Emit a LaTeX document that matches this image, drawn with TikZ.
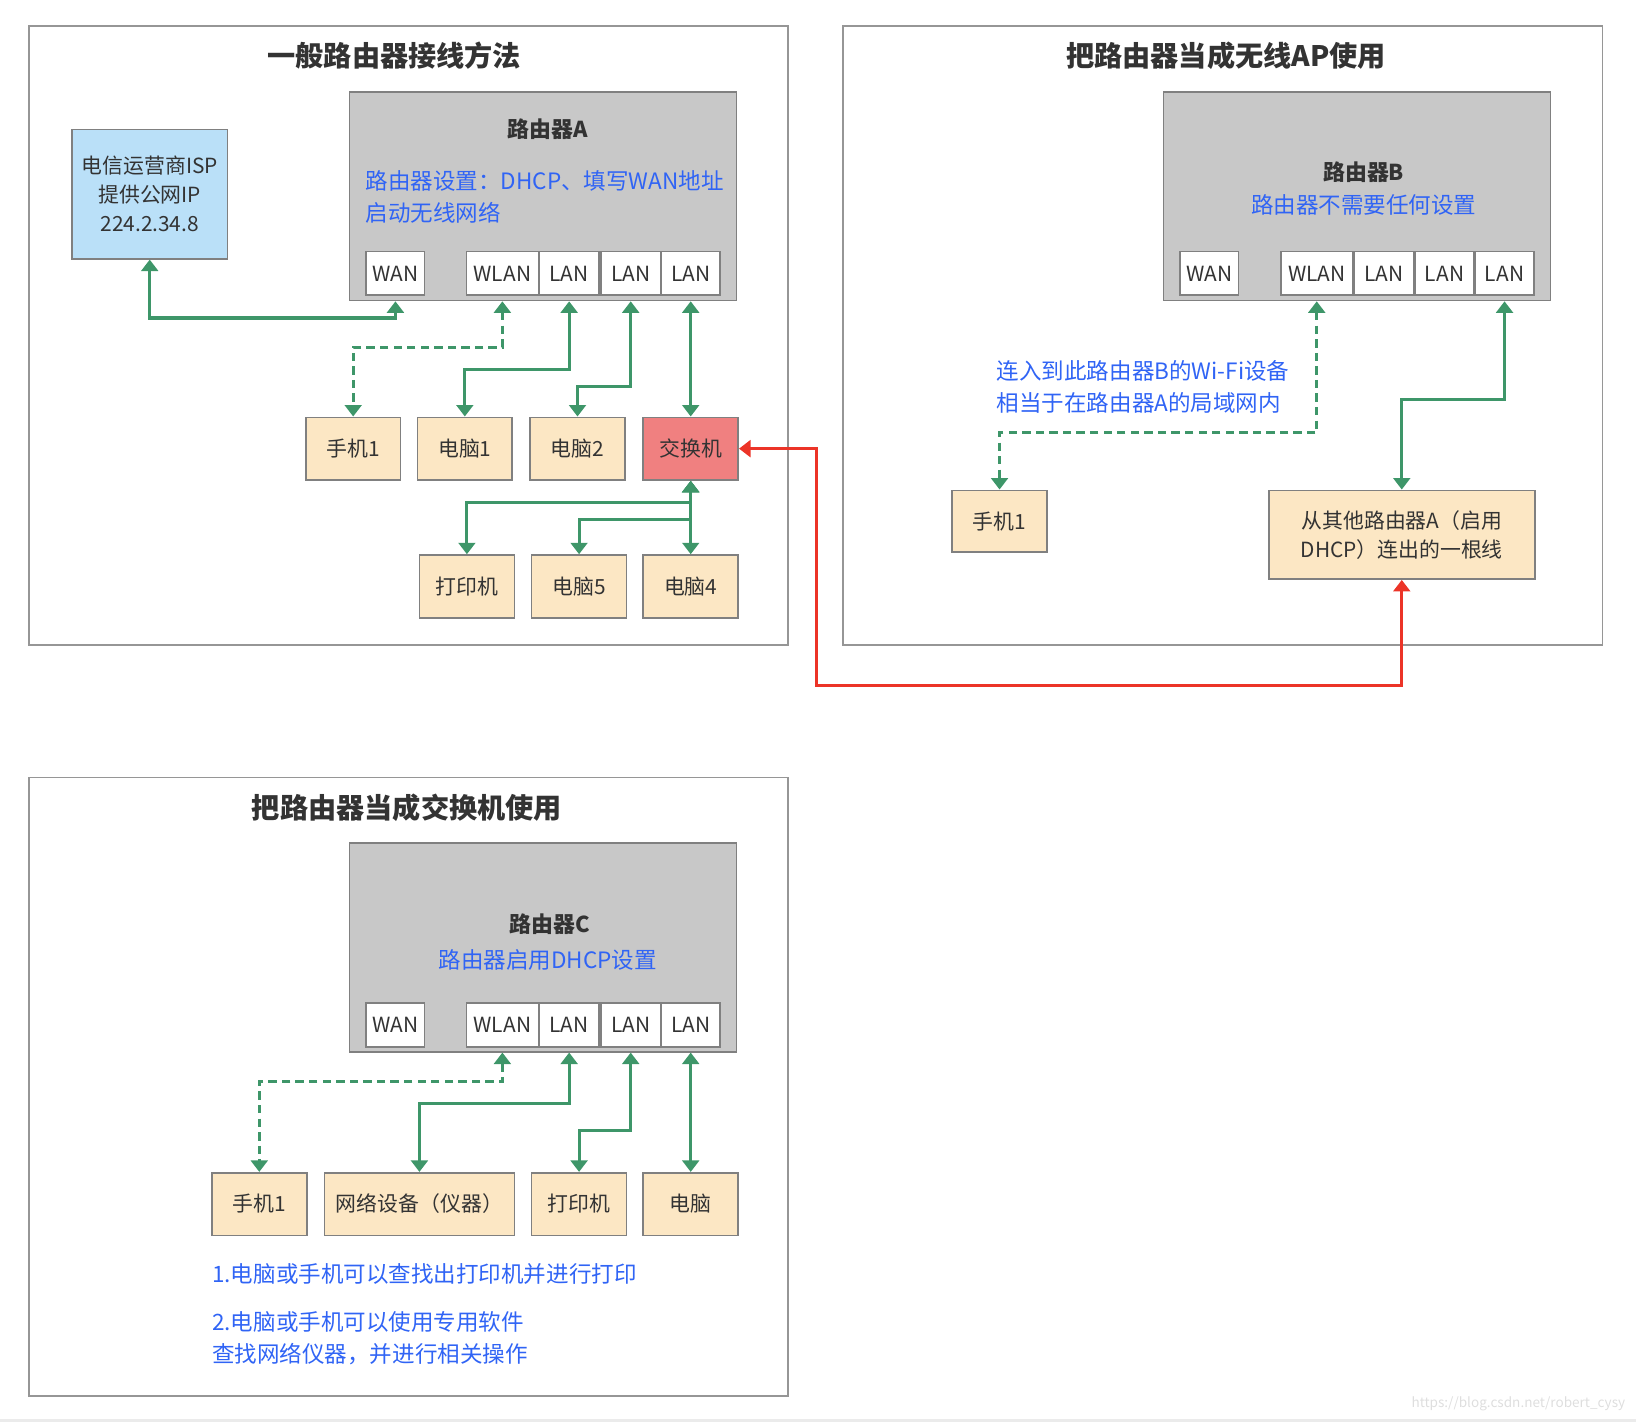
\documentclass[tikz,border=0pt]{standalone}
\usepackage{fontspec}
\setmainfont{Noto Sans CJK SC}
\usepackage{tikz}
\usetikzlibrary{arrows.meta,positioning}

\definecolor{txtdark}{RGB}{51,51,51}
\definecolor{noteblue}{RGB}{48,100,245}
\definecolor{linkgreen}{RGB}{62,150,105}
\definecolor{linkred}{RGB}{236,52,40}
\definecolor{routergray}{RGB}{200,200,200}
\definecolor{edgegray}{RGB}{128,128,128}
\definecolor{framegray}{RGB}{150,150,150}
\definecolor{devbeige}{RGB}{252,231,196}
\definecolor{ispblue}{RGB}{186,224,248}
\definecolor{switchred}{RGB}{240,128,128}

\newcommand{\ttlfont}{\fontsize{13.5}{16}\selectfont\bfseries}
\newcommand{\lblfont}{\fontsize{10.5}{13}\selectfont\bfseries}
\newcommand{\notefont}{\fontsize{10.8}{15.3}\selectfont}
\newcommand{\devfont}{\fontsize{10}{13.8}\selectfont}

\begin{document}
\begin{tikzpicture}[x=0.5pt, y=-0.5pt]
%\draw[very thin, color = gray](0, 0) grid (1568, 1363);
\tikzstyle{frame} = [draw = framegray, line width = 0.75pt];
\tikzstyle{title} = [text = txtdark, font = \ttlfont];
\tikzstyle{router} = [draw = edgegray, fill = routergray, line width = 0.8pt,
  minimum width = 185.5pt, minimum height = 100pt];
\tikzstyle{lbl} = [text = txtdark, font = \lblfont];
\tikzstyle{note} = [text = noteblue, font = \notefont, align = left, inner sep = 0pt];
\tikzstyle{port} = [draw = edgegray, fill = white, line width = 0.8pt, text = txtdark,
  font = \devfont, minimum height = 21pt, minimum width = 28pt, inner sep = 0pt];
\tikzstyle{dev} = [draw = edgegray, fill = devbeige, line width = 0.8pt, text = txtdark,
  font = \devfont, align = center, minimum width = 45.5pt, minimum height = 30pt];
\tikzstyle{line} = [draw = linkgreen, line width = 1.5pt,
  {Triangle[width = 8pt, length = 5.5pt]}-{Triangle[width = 8pt, length = 5.5pt]}];
\tikzstyle{wifi} = [line, dash pattern = on 4pt off 2.5pt];
\tikzstyle{cable} = [line, draw = linkred];

\useasboundingbox (0, 0) rectangle (1568, 1363);
\fill[black!8] (0, 1360) rectangle (1568, 1363);

% normal wiring
\draw[frame] (28, 25) rectangle (755, 618);
\node [title] at (378, 53) (titleA) {一般路由器接线方法};
\node [router] at (520.5, 188) (routerA) {};
\node [lbl] at (525, 124) (nameA) {路由器A};
\node [note, anchor = west] at (350, 188.5) (noteA) {路由器设置：DHCP、填写WAN地址\\启动无线网络};
\node [port] at (379, 262) (wanA) {WAN};
\node [port, minimum width = 34.5pt] at (481.5, 262) (wlanA) {WLAN};
\node [port, minimum width = 28.5pt] at (545.5, 262) (lanAa) {LAN};
\node [port, minimum width = 28.5pt] at (604.5, 262) (lanAb) {LAN};
\node [port] at (662, 262) (lanAc) {LAN};
\node [dev, fill = ispblue, minimum width = 74.5pt, minimum height = 62pt]
  at (143.5, 186) (isp) {电信运营商ISP\\提供公网IP\\224.2.34.8};
\node [dev] at (338.5, 430) (phoneA) {手机1};
\node [dev] at (445.5, 430) (pcAa) {电脑1};
\node [dev] at (553.5, 430) (pcAb) {电脑2};
\node [dev, fill = switchred] at (662, 430) (switchA) {交换机};
\node [dev] at (447.5, 562) (printerA) {打印机};
\node [dev] at (555, 562) (pcAe) {电脑5};
\node [dev] at (662, 562) (pcAd) {电脑4};
\path [line] (isp.south) -- ++(0, 56) -| (wanA |- routerA.south);
\path [wifi] (wlanA |- routerA.south) -- ++(0, 44) -| (phoneA.north);
\path [line] (lanAa |- routerA.south) -- ++(0, 65) -| (pcAa.north);
\path [line] (lanAb |- routerA.south) -- ++(0, 82) -| (pcAb.north);
\path [line] (lanAc |- routerA.south) -- (switchA.north);
\path [line] (switchA.south) -- ++(0, 21) -| (printerA.north);
\path [line] (switchA.south) -- ++(0, 37) -| (pcAe.north);
\path [line] (switchA.south) -- (pcAd.north);

% access point
\draw[frame] (808, 25) rectangle (1536, 618);
\node [title] at (1175, 53) (titleB) {把路由器当成无线AP使用};
\node [router] at (1300.5, 188) (routerB) {};
\node [lbl] at (1307, 165) (nameB) {路由器B};
\node [note] at (1307, 196) (noteB) {路由器不需要任何设置};
\node [port] at (1159, 262) (wanB) {WAN};
\node [port, minimum width = 34.5pt] at (1262, 262) (wlanB) {WLAN};
\node [port, minimum width = 28.5pt] at (1326.5, 262) (lanBa) {LAN};
\node [port, minimum width = 28.5pt] at (1384.5, 262) (lanBb) {LAN};
\node [port] at (1442, 262) (lanBc) {LAN};
\node [note, anchor = west] at (955, 370.5) (noteWifi) {连入到此路由器B的Wi-Fi设备\\相当于在路由器A的局域网内};
\node [dev, minimum height = 29.5pt] at (958, 499.5) (phoneB) {手机1};
\node [dev, minimum width = 127.5pt, minimum height = 42.5pt]
  at (1343.5, 512.5) (uplinkB) {从其他路由器A（启用\\DHCP）连出的一根线};
\path [wifi] (wlanB |- routerB.south) -- ++(0, 126) -| (phoneB.north);
\path [line] (lanBc |- routerB.south) -- ++(0, 94) -| (uplinkB.north);
\path [cable] (switchA.east) -| ++(74, 227) -| (uplinkB.south);

% switch mode
\draw[frame] (28, 745) rectangle (755, 1338);
\node [title] at (390, 774) (titleC) {把路由器当成交换机使用};
\node [router] at (520.5, 908) (routerC) {};
\node [lbl] at (527, 886) (nameC) {路由器C};
\node [note] at (525, 920) (noteC) {路由器启用DHCP设置};
\node [port] at (379, 982.5) (wanC) {WAN};
\node [port, minimum width = 34.5pt] at (481.5, 982.5) (wlanC) {WLAN};
\node [port, minimum width = 28.5pt] at (545.5, 982.5) (lanCa) {LAN};
\node [port, minimum width = 28.5pt] at (604.5, 982.5) (lanCb) {LAN};
\node [port] at (662, 982.5) (lanCc) {LAN};
\node [dev] at (248.5, 1154) (phoneC) {手机1};
\node [dev, minimum width = 91pt] at (402, 1154) (meterC) {网络设备（仪器）};
\node [dev] at (555, 1154) (printerC) {打印机};
\node [dev] at (662, 1154) (pcC) {电脑};
\path [wifi] (wlanC |- routerC.south) -- ++(0, 28) -| (phoneC.north);
\path [line] (lanCa |- routerC.south) -- ++(0, 49) -| (meterC.north);
\path [line] (lanCb |- routerC.south) -- ++(0, 75) -| (printerC.north);
\path [line] (lanCc |- routerC.south) -- (pcC.north);
\node [note, anchor = west] at (203, 1221) (tipOne) {1.电脑或手机可以查找出打印机并进行打印};
\node [note, anchor = west] at (203, 1283) (tipTwo) {2.电脑或手机可以使用专用软件\\查找网络仪器，并进行相关操作};

\node [anchor = east, text = black!13, font = \fontsize{6.5}{8}\selectfont, inner sep = 0pt]
  at (1558, 1345) (mark) {https://blog.csdn.net/robert\_cysy};
\end{tikzpicture}
\end{document}
